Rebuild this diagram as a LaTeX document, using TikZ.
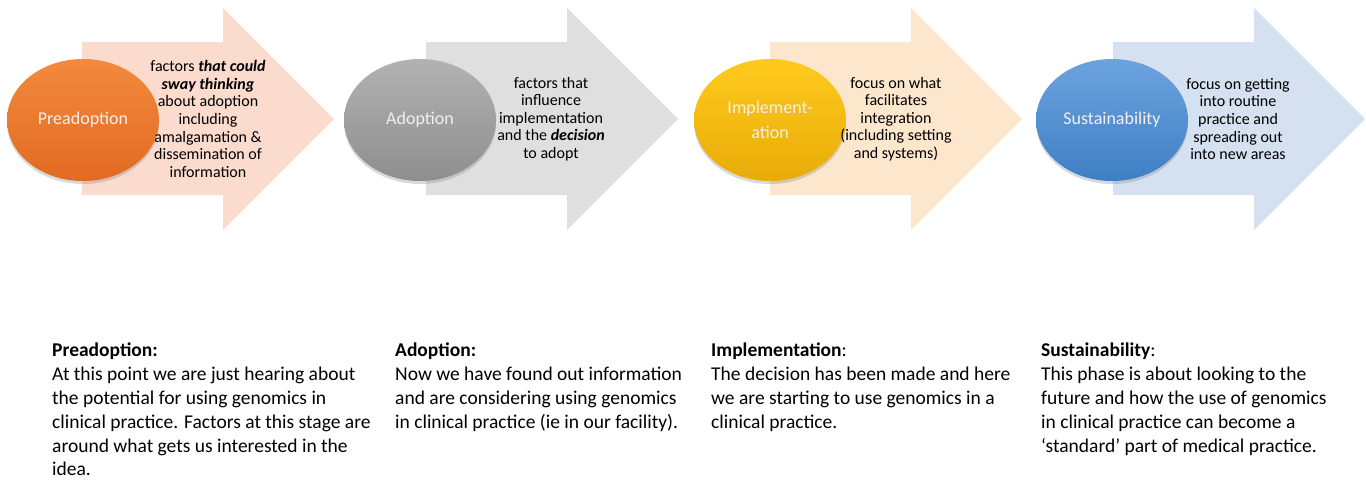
\documentclass[tikz,border=0pt]{standalone}
\usepackage{fontspec}
\setmainfont{Carlito}
\usepackage{xcolor}
\usepackage{tikz}
\usetikzlibrary{shapes.geometric}
\usetikzlibrary{shadows}
\definecolor{preArrow}{RGB}{250,219,206}
\definecolor{adoArrow}{RGB}{223,223,223}
\definecolor{impArrow}{RGB}{252,230,204}
\definecolor{susArrow}{RGB}{213,224,241}
\definecolor{preTop}{RGB}{242,138,62}
\definecolor{preBot}{RGB}{226,106,34}
\definecolor{adoTop}{RGB}{178,178,178}
\definecolor{adoBot}{RGB}{142,142,142}
\definecolor{impTop}{RGB}{255,202,30}
\definecolor{impBot}{RGB}{232,172,8}
\definecolor{susTop}{RGB}{108,163,222}
\definecolor{susBot}{RGB}{62,127,196}

\begin{document}
\begin{tikzpicture}[x=1pt, y=-1pt,
    phase/.style={ellipse, minimum width=152pt, minimum height=122pt, inner sep=0pt,
      text=white!94!black, align=center, font=\fontsize{18}{25}\selectfont,
      drop shadow={shadow xshift=0pt, shadow yshift=-3pt, opacity=0.3}},
    note/.style={align=center, inner sep=0pt, font=\fontsize{16}{17.6}\selectfont},
    desc/.style={anchor=north west, align=left, inner sep=0pt, font=\fontsize{19.5}{23.8}\selectfont}]
    \useasboundingbox (0,0) rectangle (1366,480);
    % arrows
    \fill[preArrow] (82,42) -- ++(141,0) -- ++(0,-34) -- ++(111,111) -- ++(-111,111) -- ++(0,-35) -- ++(-141,0) -- cycle;
    \fill[adoArrow] (426,42) -- ++(141,0) -- ++(0,-34) -- ++(111,111) -- ++(-111,111) -- ++(0,-35) -- ++(-141,0) -- cycle;
    \fill[impArrow] (770,42) -- ++(141,0) -- ++(0,-34) -- ++(111,111) -- ++(-111,111) -- ++(0,-35) -- ++(-141,0) -- cycle;
    \fill[susArrow] (1113,42) -- ++(141,0) -- ++(0,-34) -- ++(111,111) -- ++(-111,111) -- ++(0,-35) -- ++(-141,0) -- cycle;
    % phases
    \node[phase, top color=preTop, bottom color=preBot] (E1) at (83,120) {Preadoption};
    \node[phase, top color=adoTop, bottom color=adoBot] (E2) at (420,120) {Adoption};
    \node[phase, top color=impTop, bottom color=impBot] (E3) at (770,120) {Implement-\\ation};
    \node[phase, top color=susTop, bottom color=susBot] (E4) at (1112,120) {Sustainability};
    % arrow texts
    \node[note] (T1) at (208,119) {factors \textbf{\textit{that could}}\\\textbf{\textit{sway thinking}}\\about adoption\\including\\amalgamation \&\\dissemination of\\information};
    \node[note] (T2) at (551,119) {factors that\\influence\\implementation\\and the \textbf{\textit{decision}}\\to adopt};
    \node[note] (T3) at (896,119) {focus on what\\facilitates\\integration\\(including setting\\and systems)};
    \node[note] (T4) at (1238,119) {focus on getting\\into routine\\practice and\\spreading out\\into new areas};
    % descriptions
    \node[desc] (D1) at (52,343) {\textbf{Preadoption:}\\At this point we are just hearing about\\the potential for using genomics in\\clinical practice. Factors at this stage are\\around what gets us interested in the\\idea.};
    \node[desc] (D2) at (395,343) {\textbf{Adoption:}\\Now we have found out information\\and are considering using genomics\\in clinical practice (ie in our facility).};
    \node[desc] (D3) at (711,343) {\textbf{Implementation}:\\The decision has been made and here\\we are starting to use genomics in a\\clinical practice.};
    \node[desc] (D4) at (1041,343) {\textbf{Sustainability}:\\This phase is about looking to the\\future and how the use of genomics\\in clinical practice can become a\\‘standard’ part of medical practice.};
\end{tikzpicture}
\end{document}
